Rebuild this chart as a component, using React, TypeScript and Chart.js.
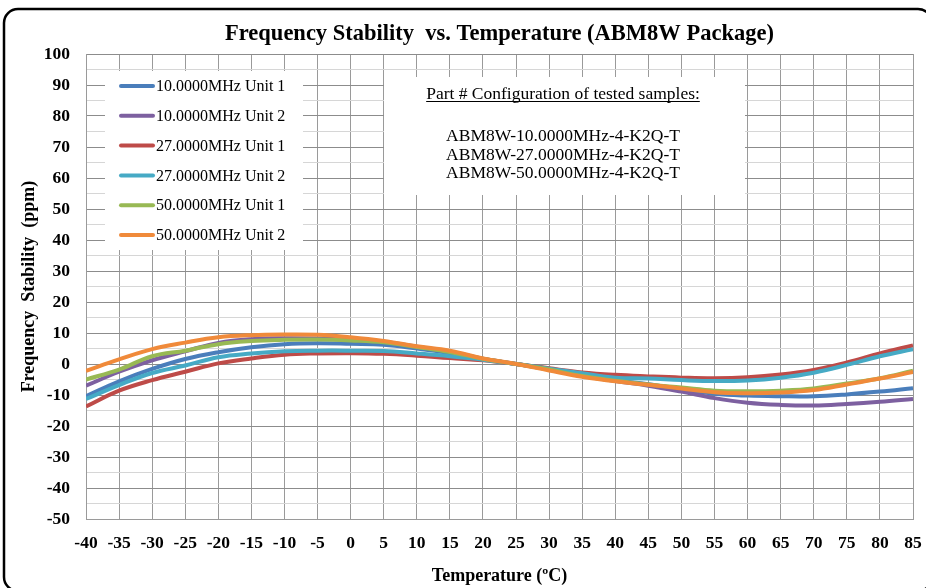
import React, { useEffect, useRef } from "react";
import { Chart, registerables } from "chart.js";

Chart.register(...registerables);

const TITLE = "Frequency Stability  vs. Temperature (ABM8W Package)";
const X_TITLE = "Temperature (ºC)";
const Y_TITLE = "Frequency  Stability  (ppm)";

const temperatures = [
  -40, -35, -30, -25, -20, -15, -10, -5, 0, 5, 10, 15, 20, 25, 30, 35, 40, 45, 50, 55, 60, 65, 70, 75, 80, 85,
];

const seriesLabels = [
  "10.0000MHz Unit 1",
  "10.0000MHz Unit 2",
  "27.0000MHz Unit 1",
  "27.0000MHz Unit 2",
  "50.0000MHz Unit 1",
  "50.0000MHz Unit 2",
];

const seriesColors = ["#4A7EBB", "#7D60A0", "#BE4B48", "#46AAC5", "#98B954", "#F08A3A"];

const mhz10Unit1 = [
  -10.4, -5.6, -1.6, 1.6, 3.8, 5.4, 6.4, 6.7, 6.5, 6.2, 5.0, 3.5, 1.6, 0, -1.6, -3.6, -5.2, -6.5, -8.1, -9.6,
  -10.2, -10.4, -10.4, -9.8, -8.9, -7.8,
];
const mhz10Unit2 = [
  -7.0, -2.5, 1.2, 4.1, 6.8, 8.0, 8.3, 8.2, 7.8, 7.2, 5.6, 4.0, 1.7, 0, -1.8, -3.8, -5.5, -7.0, -8.9, -11.0,
  -12.5, -13.2, -13.4, -12.9, -12.2, -11.3,
];
const mhz27Unit1 = [
  -13.7, -8.6, -5.2, -2.5, 0.2, 1.8, 3.0, 3.4, 3.5, 3.3, 2.7, 1.9, 1.2, 0, -1.4, -2.7, -3.5, -4.0, -4.4, -4.6,
  -4.3, -3.4, -1.9, 0.5, 3.4, 6.0,
];
const mhz27Unit2 = [
  -11.3, -6.8, -2.9, -0.5, 2.2, 3.4, 4.1, 4.3, 4.3, 4.2, 3.4, 2.5, 1.4, 0, -1.5, -3.0, -4.4, -4.7, -5.2, -5.5,
  -5.3, -4.4, -2.8, -0.3, 2.5, 4.8,
];
const mhz50Unit1 = [
  -5.0, -1.8, 2.5, 4.3, 6.4, 7.4, 7.8, 7.9, 7.6, 7.0, 5.5, 3.9, 1.7, 0, -1.8, -3.9, -5.4, -6.6, -7.6, -8.6,
  -8.8, -8.6, -7.9, -6.3, -4.6, -2.2,
];
const mhz50Unit2 = [
  -2.2, 1.5, 4.8, 6.9, 8.6, 9.3, 9.5, 9.4, 8.6, 7.4, 5.7, 4.3, 1.8, 0, -2.1, -4.1, -5.6, -6.7, -7.9, -9.1,
  -9.4, -9.2, -8.4, -6.6, -4.7, -2.6,
];

const seriesValues = [mhz10Unit1, mhz10Unit2, mhz27Unit1, mhz27Unit2, mhz50Unit1, mhz50Unit2];

const NOTE_HEADER = "Part # Configuration of tested samples:";
const partNumbers = ["ABM8W-10.0000MHz-4-K2Q-T", "ABM8W-27.0000MHz-4-K2Q-T", "ABM8W-50.0000MHz-4-K2Q-T"];

const SERIF = "'Liberation Serif', 'Times New Roman', Times, serif";

const backgroundAndFrame = {
  id: "backgroundAndFrame",
  beforeDraw(chart: any) {
    const ctx = chart.ctx;
    ctx.save();
    ctx.fillStyle = "#ffffff";
    ctx.fillRect(0, 0, chart.width, chart.height);
    ctx.restore();
  },
  afterDraw(chart: any) {
    const ctx = chart.ctx;
    const r = 14;
    const x0 = 4;
    const y0 = 9;
    const x1 = 932;
    const y1 = 591;
    ctx.save();
    ctx.strokeStyle = "#000000";
    ctx.lineWidth = 2.5;
    ctx.beginPath();
    ctx.moveTo(x0 + r, y0);
    ctx.lineTo(x1 - r, y0);
    ctx.arcTo(x1, y0, x1, y0 + r, r);
    ctx.lineTo(x1, y1 - r);
    ctx.arcTo(x1, y1, x1 - r, y1, r);
    ctx.lineTo(x0 + r, y1);
    ctx.arcTo(x0, y1, x0, y1 - r, r);
    ctx.lineTo(x0, y0 + r);
    ctx.arcTo(x0, y0, x0 + r, y0, r);
    ctx.closePath();
    ctx.stroke();
    ctx.restore();
  },
};

const boxesPlugin = {
  id: "boxes",
  beforeDatasetsDraw(chart: any) {
    const ctx = chart.ctx;
    ctx.save();
    // legend box
    ctx.fillStyle = "#ffffff";
    ctx.fillRect(105, 71, 198, 179);
    ctx.font = `16px ${SERIF}`;
    ctx.textBaseline = "middle";
    ctx.textAlign = "left";
    chart.data.datasets.forEach((ds: any, i: number) => {
      const y = 86 + i * 29.8;
      ctx.strokeStyle = ds.borderColor;
      ctx.lineWidth = 4;
      ctx.lineCap = "round";
      ctx.beginPath();
      ctx.moveTo(121, y);
      ctx.lineTo(153, y);
      ctx.stroke();
      ctx.fillStyle = "#000000";
      ctx.fillText(ds.label, 156, y + 1);
    });
    // part number box
    ctx.fillStyle = "#ffffff";
    ctx.fillRect(384, 77, 361, 118);
    ctx.fillStyle = "#000000";
    ctx.font = `17.5px ${SERIF}`;
    ctx.textAlign = "center";
    ctx.textBaseline = "alphabetic";
    const cx = 563;
    ctx.fillText(NOTE_HEADER, cx, 99);
    const w = ctx.measureText(NOTE_HEADER).width;
    ctx.strokeStyle = "#000000";
    ctx.lineWidth = 1;
    ctx.lineCap = "butt";
    ctx.beginPath();
    ctx.moveTo(cx - w / 2, 101.5);
    ctx.lineTo(cx + w / 2, 101.5);
    ctx.stroke();
    partNumbers.forEach((p, i) => {
      ctx.fillText(p, cx, 141 + i * 18.5);
    });
    ctx.restore();
  },
};

export default function App() {
  const ref = useRef<HTMLCanvasElement | null>(null);

  useEffect(() => {
    if (!ref.current) return;
    Chart.defaults.font.family = SERIF;
    Chart.defaults.color = "#000000";
    const datasets = seriesLabels.map((label, i) => ({
      label,
      data: temperatures.map((t, j) => ({ x: t, y: seriesValues[i][j] })),
      borderColor: seriesColors[i],
      backgroundColor: seriesColors[i],
      borderWidth: 4,
      pointRadius: 0,
      tension: 0.4,
      fill: false,
      order: seriesLabels.length - 1 - i,
    }));
    const chart = new Chart(ref.current, {
      type: "line",
      data: { datasets },
      plugins: [backgroundAndFrame, boxesPlugin],
      options: {
        animation: false,
        responsive: false,
        devicePixelRatio: 1,
        layout: { padding: { left: 0, right: 13, top: 0, bottom: 0 } },
        plugins: {
          legend: { display: false },
          tooltip: { enabled: false },
          title: {
            display: true,
            text: TITLE,
            fullSize: false,
            color: "#000000",
            font: { size: 22.5, weight: "bold", family: SERIF },
            padding: { top: 21, bottom: 6 },
          },
        },
        scales: {
          x: {
            type: "linear",
            min: -40,
            max: 85,
            afterFit: (s: any) => {
              s.height = 69;
            },
            ticks: {
              stepSize: 5,
              autoSkip: false,
              maxRotation: 0,
              padding: 0,
              color: "#000000",
              font: { size: 17.5, weight: "bold", family: SERIF },
            },
            grid: { color: "#9a9a9a", lineWidth: 1, drawTicks: true, tickLength: 14, tickColor: "rgba(0,0,0,0)" },
            border: { color: "#9a9a9a", width: 1 },
            title: {
              display: true,
              text: X_TITLE,
              color: "#000000",
              font: { size: 18, weight: "bold", family: SERIF },
              padding: { top: 0, bottom: 1 },
            },
          },
          y: {
            type: "linear",
            min: -50,
            max: 100,
            afterFit: (s: any) => {
              s.width = 86;
            },
            ticks: {
              stepSize: 5,
              autoSkip: false,
              padding: 16,
              color: "#000000",
              font: { size: 17.5, weight: "bold", family: SERIF },
              callback: (v: any) => (Number(v) % 10 === 0 ? String(v) : ""),
            },
            grid: {
              drawTicks: false,
              lineWidth: 1,
              color: (c: any) => (c.tick && Math.abs(c.tick.value) % 10 === 0 ? "#8c8c8c" : "#d6d6d6"),
            },
            border: { color: "#9a9a9a", width: 1 },
            title: {
              display: true,
              text: Y_TITLE,
              color: "#000000",
              font: { size: 18, weight: "bold", family: SERIF },
              padding: { top: 19, bottom: 0 },
            },
          },
        },
      },
    });
    return () => chart.destroy();
  }, []);

  return (
    <div style={{ position: "absolute", left: 0, top: 0, width: 926, height: 588, background: "#fff" }}>
      <canvas ref={ref} width={926} height={588} style={{ display: "block" }} />
    </div>
  );
}
